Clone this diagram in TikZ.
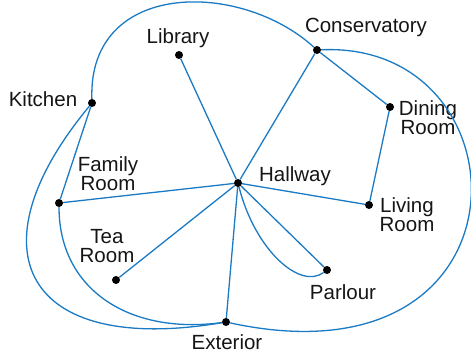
\documentclass[tikz,border=0pt]{standalone}
\usepackage{fontspec}
\setmainfont{Liberation Sans}
\usepackage{tikz}
\usetikzlibrary{positioning}
\definecolor{edgeblue}{HTML}{1A7AC4}
\definecolor{ink}{HTML}{151515}

\begin{document}
\begin{tikzpicture}[x=1pt,y=-1pt,
  font=\fontsize{20.5}{19}\selectfont,
  room/.style={circle,fill=black,inner sep=0pt,minimum size=8pt},
  roomlabel/.style={color=ink,align=center,inner sep=0pt},
  link/.style={draw=edgeblue,line width=1.3pt}]
  \useasboundingbox (0,0) rectangle (471,354);
  % rooms
  \node[room] (lib)  at (179,55)  {};
  \node[room] (cons) at (317,50)  {};
  \node[room] (kit)  at (92,103)  {};
  \node[room] (din)  at (390,107) {};
  \node[room] (hall) at (238,183) {};
  \node[room] (fam)  at (59,203)  {};
  \node[room] (liv)  at (369,205) {};
  \node[room] (tea)  at (116,280) {};
  \node[room] (par)  at (327,270) {};
  \node[room] (ext)  at (226,322) {};
  % labels
  \node[roomlabel] (libtxt)  at (178,38)  {Library};
  \node[roomlabel] (constxt) at (366,27)  {Conservatory};
  \node[roomlabel] (kittxt)  at (43,99)   {Kitchen};
  \node[roomlabel] (dintxt)  at (428,118) {Dining\\Room};
  \node[roomlabel] (halltxt) at (295,176) {Hallway};
  \node[roomlabel] (famtxt)  at (108,174) {Family\\Room};
  \node[roomlabel] (livtxt)  at (407,215) {Living\\Room};
  \node[roomlabel] (teatxt)  at (107,246) {Tea\\Room};
  \node[roomlabel] (partxt)  at (343,292) {Parlour};
  \node[roomlabel] (exttxt)  at (227,342) {Exterior};
  % straight passages
  \foreach \a/\b in {lib/hall,cons/hall,cons/din,din/liv,liv/hall,
                     fam/hall,tea/hall,ext/hall,par/hall,kit/fam}
    \draw[link] (\a) -- (\b);
  % curved passages
  \draw[link] (kit) .. controls (88,-20) and (240,-20) .. (cons);
  \draw[link] (cons) .. controls (530,40) and (540,390) .. (ext);
  \draw[link] (kit) .. controls (-30,250) and (24,356) .. (ext);
  \draw[link] (fam) .. controls (59,290) and (130,335) .. (ext);
  \draw[link] (hall) .. controls (255,250) and (300,290) .. (par);
\end{tikzpicture}
\end{document}
